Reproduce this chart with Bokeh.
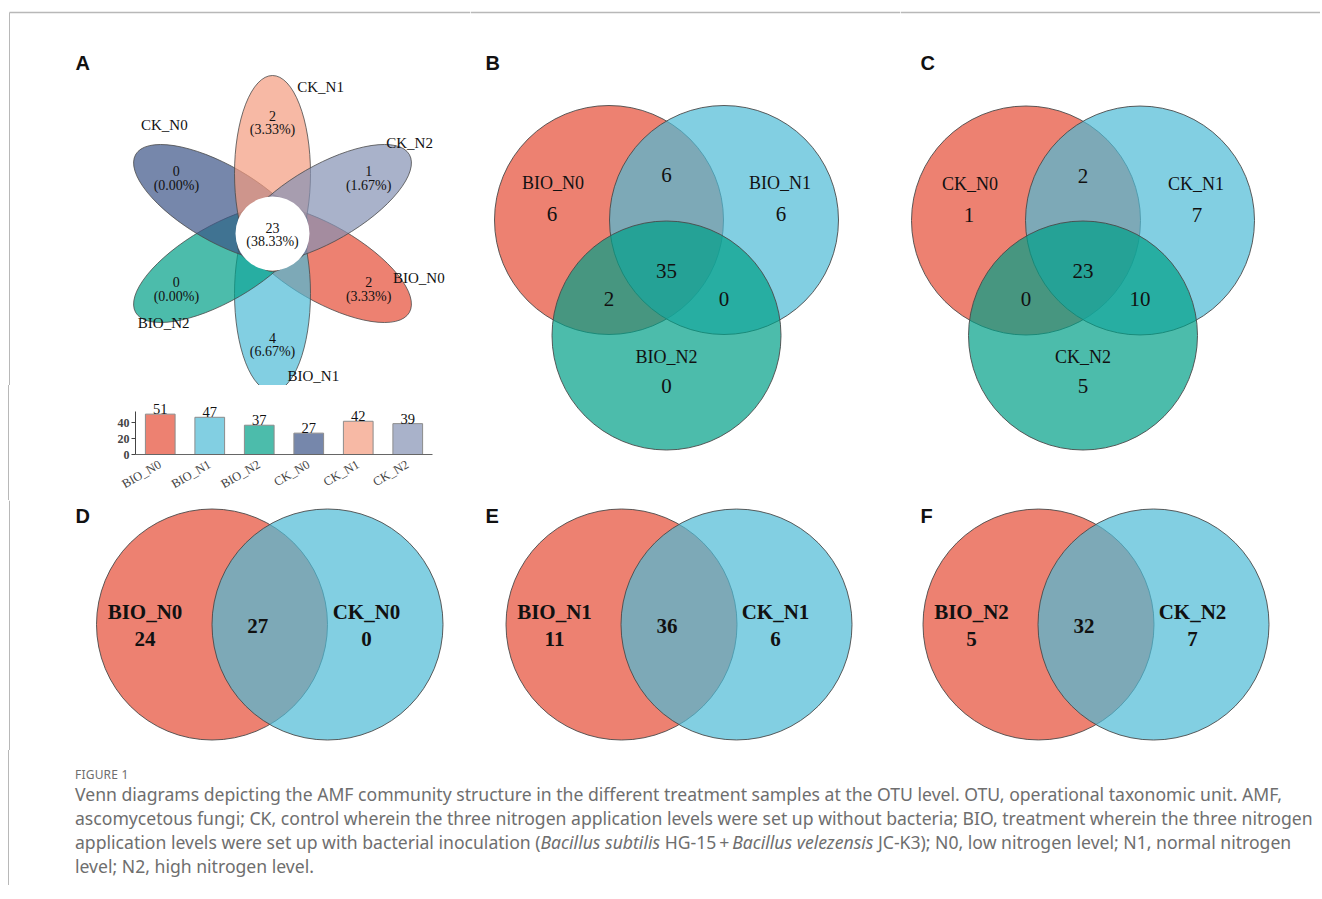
import math
from bokeh.plotting import figure
from bokeh.models import Range1d, FactorRange, Div, FixedTicker, LabelSet, ColumnDataSource
from bokeh.layouts import row, column
from bokeh.embed import file_html
from bokeh.resources import INLINE
from bokeh.core.properties import value

# ---------------- data ----------------
samples = ["BIO_N0", "BIO_N1", "BIO_N2", "CK_N0", "CK_N1", "CK_N2"]
petal_unique = [2, 4, 0, 0, 2, 1]
petal_percent = ["3.33%", "6.67%", "0.00%", "0.00%", "3.33%", "1.67%"]
core_count = 23
core_percent = "38.33%"
otu_totals = [51, 47, 37, 27, 42, 39]
bar_ticks = [0, 20, 40]

venn_b_sets = ["BIO_N0", "BIO_N1", "BIO_N2"]
venn_b_counts = [6, 6, 0, 6, 2, 0, 35]      # A, B, C, AB, AC, BC, ABC
venn_c_sets = ["CK_N0", "CK_N1", "CK_N2"]
venn_c_counts = [1, 7, 5, 2, 0, 10, 23]
venn_d_sets = ["BIO_N0", "CK_N0"]
venn_d_counts = [24, 0, 27]                  # A only, B only, AB
venn_e_sets = ["BIO_N1", "CK_N1"]
venn_e_counts = [11, 6, 36]
venn_f_sets = ["BIO_N2", "CK_N2"]
venn_f_counts = [5, 7, 32]

caption_label = "FIGURE 1"
caption_lines = [
    "Venn diagrams depicting the AMF community structure in the different treatment samples at the OTU level. OTU, operational taxonomic unit. AMF,",
    "ascomycetous fungi; CK, control wherein the three nitrogen application levels were set up without bacteria; BIO, treatment wherein the three nitrogen",
    "application levels were set up with bacterial inoculation (<i>Bacillus subtilis</i> HG-15\u2009+\u2009<i>Bacillus velezensis</i> JC-K3); N0, low nitrogen level; N1, normal nitrogen",
    "level; N2, high nitrogen level.",
]

# ---------------- style ----------------
NPG = ["#E64B35", "#4DBBD5", "#00A087", "#3C5488", "#F39B7F", "#8491B4"]
ALPHA = 0.7
EDGE = "#4a4a4a"
SERIF = value("Liberation Serif")
SANS = value("Liberation Sans")
RULE = "#b8b8b8"


def canvas(x0, y0, w, h):
    p = figure(width=w, height=h, x_range=Range1d(x0, x0 + w), y_range=Range1d(y0 + h, y0),
               x_axis_type=None, y_axis_type=None, output_backend="svg", toolbar_location=None,
               min_border=0, min_border_left=0, min_border_right=0, min_border_top=0,
               min_border_bottom=0)
    p.outline_line_color = None
    p.background_fill_color = "white"
    p.border_fill_color = "white"
    return p


def letter(p, x, y, t):
    p.text(x=[x], y=[y], text=[t], text_font=SANS, text_font_style="bold",
           text_font_size="20px", text_align="left", text_baseline="middle", text_color="#111")


def txt(p, xs, ys, ts, size, bold=False, align="center"):
    p.text(x=xs, y=ys, text=ts, text_font=SERIF, text_font_style="bold" if bold else "normal",
           text_font_size=size, text_align=align, text_baseline="middle", text_color="#111")


def venn3(p, cx, cy, dx, dyc, r, sets, counts):
    xa, xb, yc = cx - dx / 2, cx + dx / 2, cy + dyc
    p.circle(x=[xa, xb, cx], y=[cy, cy, yc], radius=r, fill_color=NPG[:3], fill_alpha=ALPHA,
             line_color=EDGE, line_width=0.9)
    txt(p, [xa - 56, xb + 56, cx], [cy - 37, cy - 37, yc + 21], sets, "18px")
    txt(p, [xa - 57, xb + 57, cx, cx, xa, xb, cx],
        [cy - 6, cy - 6, yc + 50, cy - 45, yc - 37, yc - 37, yc - 65],
        [str(c) for c in counts], "21px")


def venn2(p, xa, xb, cy, r, sets, counts):
    p.circle(x=[xa, xb], y=[cy, cy], radius=r, fill_color=NPG[:2], fill_alpha=ALPHA,
             line_color=EDGE, line_width=0.9)
    txt(p, [xa - 67, xb + 39], [cy - 13, cy - 13], sets, "21px", bold=True)
    txt(p, [xa - 67, xb + 39, (xa + xb) / 2 - 12], [cy + 14, cy + 14, cy + 1],
        [str(c) for c in counts], "21px", bold=True)


# ---------------- panel A: flower ----------------
pa = canvas(0, 0, 470, 385)
fx, fy = 272, 233
petal_angle = [-30 - 60 * i for i in range(6)]
semi_a, semi_b, offset = 98, 38, 60
ex = [fx + offset * math.cos(math.radians(a)) for a in petal_angle]
ey = [fy - offset * math.sin(math.radians(a)) for a in petal_angle]
pa.ellipse(x=ex, y=ey, width=2 * semi_a, height=2 * semi_b,
           angle=[math.radians(a) for a in petal_angle],
           fill_color=NPG, fill_alpha=ALPHA, line_color=EDGE, line_width=0.8)
pa.circle(x=[fx], y=[fy], radius=37, fill_color="white", line_color=None)
lab_d = 111
lx = [fx + lab_d * math.cos(math.radians(a)) for a in petal_angle]
ly = [fy - lab_d * math.sin(math.radians(a)) for a in petal_angle]
txt(pa, lx, [y - 7 for y in ly], [str(v) for v in petal_unique], "14px")
txt(pa, lx, [y + 7 for y in ly], ["(%s)" % s for s in petal_percent], "14px")
txt(pa, [fx, fx], [fy - 6, fy + 8], [str(core_count), "(%s)" % core_percent], "14px")
name_dist = [153, 148, 141, 153, 154, 164]
name_ang = [-17, -74, 219.5, 135, 71.8, 33.3]
nx = [fx + d * math.cos(math.radians(a)) for d, a in zip(name_dist, name_ang)]
ny = [fy - d * math.sin(math.radians(a)) for d, a in zip(name_dist, name_ang)]
txt(pa, nx, ny, samples, "15px")
letter(pa, 75, 62, "A")
pa.line(x=[9, 470], y=[12, 12], line_color=RULE, line_width=1.5)
pa.line(x=[9, 9], y=[12, 385], line_color=RULE, line_width=1)

# ---------------- panel A: bar chart ----------------
pbar = figure(width=460, height=115, x_range=FactorRange(factors=samples), y_range=Range1d(0, 72),
              output_backend="svg", toolbar_location=None,
              min_border_left=125, min_border_right=38, min_border_top=12, min_border_bottom=46)
pbar.vbar(x=samples, top=otu_totals, width=0.6, fill_color=NPG, fill_alpha=ALPHA,
          line_color="#8c8c8c", line_width=1)
src = ColumnDataSource(dict(x=samples, y=otu_totals, t=[str(v) for v in otu_totals]))
pbar.add_layout(LabelSet(x="x", y="y", text="t", source=src, text_align="center",
                         text_baseline="bottom", y_offset=0, text_font=SERIF,
                         text_font_size="14.5px", text_color="#111"))
pbar.grid.visible = False
pbar.outline_line_color = None
pbar.yaxis.ticker = FixedTicker(ticks=bar_ticks)
pbar.yaxis.bounds = (0, 54)
pbar.yaxis.minor_tick_line_color = None
pbar.yaxis.major_tick_in = 0
pbar.yaxis.major_tick_out = 4
pbar.yaxis.axis_line_color = "#444"
pbar.yaxis.major_tick_line_color = "#444"
pbar.yaxis.major_label_text_font = "Liberation Serif"
pbar.yaxis.major_label_text_font_style = "bold"
pbar.yaxis.major_label_text_font_size = "12px"
pbar.yaxis.major_label_standoff = 2
pbar.xaxis.major_tick_line_color = None
pbar.xaxis.axis_line_color = "#666"
pbar.xaxis.major_label_orientation = math.radians(30)
pbar.xaxis.major_label_text_font = "Liberation Serif"
pbar.xaxis.major_label_text_font_size = "12.5px"
pbar.xaxis.major_label_standoff = 3
spacer = Div(text='<div style="margin-left:8px;border-left:1px solid %s;height:115px;"></div>' % RULE,
             width=10, height=115, margin=0)

# ---------------- panels B, C ----------------
pb = canvas(470, 0, 430, 500)
venn3(pb, 666, 219.5, 115, 115.5, 114.5, venn_b_sets, venn_b_counts)
letter(pb, 485, 62, "B")
pb.line(x=[470, 900], y=[12, 12], line_color=RULE, line_width=1.5)

pc = canvas(900, 0, 420, 500)
venn3(pc, 1082.5, 220, 114, 115, 114.5, venn_c_sets, venn_c_counts)
letter(pc, 920, 62, "C")
pc.line(x=[900, 1320], y=[12, 12], line_color=RULE, line_width=1.5)

# ---------------- panels D, E, F ----------------
pd_ = canvas(0, 500, 470, 250)
venn2(pd_, 211.5, 327, 624, 115.5, venn_d_sets, venn_d_counts)
letter(pd_, 75, 515, "D")
pd_.line(x=[9, 9], y=[500, 750], line_color=RULE, line_width=1)

pe = canvas(470, 500, 430, 250)
venn2(pe, 621, 736, 624, 115.5, venn_e_sets, venn_e_counts)
letter(pe, 485, 515, "E")

pf = canvas(900, 500, 420, 250)
venn2(pf, 1038, 1153, 624, 115.5, venn_f_sets, venn_f_counts)
letter(pf, 920, 515, "F")

# ---------------- caption ----------------
body = "".join('<div style="position:absolute;left:66px;top:%dpx;white-space:nowrap;">%s</div>'
               % (32 + 24 * i, ln) for i, ln in enumerate(caption_lines))
cap_html = ('<div style="position:relative;margin-left:8px;width:1300px;height:135px;'
            'border-left:1px solid %s;'
            'font-family:\'Noto Sans\',sans-serif;color:#6e6e6e;font-size:17.6px;line-height:24px;">'
            '<div style="position:absolute;left:66px;top:17px;font-size:12px;line-height:16px;'
            'letter-spacing:0.2px;">%s</div>%s</div>') % (RULE, caption_label, body)
cap = Div(text=cap_html, width=1320, height=135, margin=0)

layout = column(
    row(column(pa, row(spacer, pbar)), pb, pc),
    row(pd_, pe, pf),
    cap,
)

open("out.html", "w").write(file_html(layout, INLINE))
